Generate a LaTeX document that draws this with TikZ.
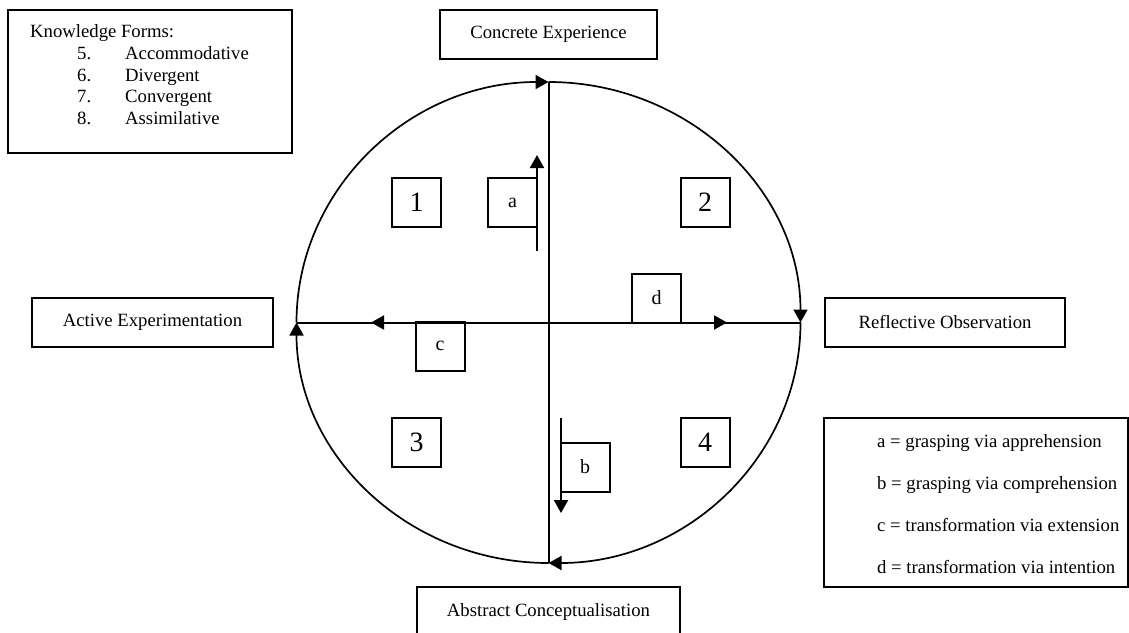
\documentclass[tikz,border=0pt]{standalone}
\usepackage{fontspec}
\setmainfont{Liberation Serif}
\usetikzlibrary{arrows.meta}
\tikzset{
  frame/.style={rectangle, draw=black, line width=2pt, inner sep=0pt},
  stage/.style={frame, minimum height=49pt, font=\fontsize{18.7}{22}\selectfont},
  quad/.style={frame, minimum size=49pt, font=\fontsize{28}{32}\selectfont},
  mode/.style={frame, minimum size=49pt, font=\fontsize{20}{24}\selectfont},
  txt/.style={anchor=base west, inner sep=0pt, font=\fontsize{18.7}{22}\selectfont},
  flow/.style={-{Triangle[length=13pt,width=14pt]}, line width=2pt},
  ring/.style={line width=1.7pt},
}

\begin{document}
\begin{tikzpicture}[x=1pt, y=-1pt]
  \useasboundingbox (0,0) rectangle (1129,632);
  % the cycle
  \coordinate (o) at (548.5,322.5);
  \coordinate (cT) at (548.5,82);
  \coordinate (cB) at (548.5,563);
  \coordinate (cL) at (296.5,322.5);
  \coordinate (cR) at (800.5,322.5);
  \draw[flow, ring] (cL) arc[start angle=180, end angle=90, x radius=252pt, y radius=240.5pt];
  \draw[flow, ring] (cT) arc[start angle=90, end angle=0, x radius=252pt, y radius=240.5pt];
  \draw[flow, ring] (cR) arc[start angle=0, end angle=-90, x radius=252pt, y radius=240.5pt];
  \draw[flow, ring] (cB) arc[start angle=-90, end angle=-180, x radius=252pt, y radius=240.5pt];
  \draw[line width=2pt] (cT) -- (cB);
  \draw[line width=2pt] (cL) -- (cR);
  % the four stages
  \node[stage, minimum width=217pt] (ce) at (548.5,34.5) {Concrete Experience};
  \node[stage, minimum width=240pt] (ro) at (945,322.5) {Reflective Observation};
  \node[stage, minimum width=263pt] (ac) at (548.5,611.5) {Abstract Conceptualisation};
  \node[stage, minimum width=241pt] (ae) at (152.5,322.5) {Active Experimentation};
  % quadrants
  \foreach \n/\x/\y in {1/416.5/202.5, 2/705/202.5, 3/416.5/442.5, 4/705/442.5}
    \node[quad] (q\n) at (\x,\y) {\n};
  % a, b, c, d
  \node[mode] (ma) at (512.5,202.5) {a};
  \node[mode] (mb) at (585,467) {b};
  \node[mode] (mc) at (440,346) {c};
  \node[mode] (md) at (656.5,298) {d};
  \coordinate (aS) at (537,251);
  \coordinate (aE) at (537,155);
  \coordinate (bS) at (561,418);
  \coordinate (bE) at (561,513);
  \coordinate (cE) at (371,322.5);
  \coordinate (dE) at (727,322.5);
  \draw[flow] (aS) -- (aE);
  \draw[flow] (bS) -- (bE);
  \draw[flow] (o) -- (cE);
  \draw[flow] (o) -- (dE);
  % knowledge forms
  \node[frame, minimum width=284pt, minimum height=143pt] (forms) at (150,81.5) {};
  \node[txt] (formshead) at (30,37) {Knowledge Forms:};
  \foreach \n/\f [count=\i] in {5/Accommodative, 6/Divergent, 7/Convergent, 8/Assimilative} {
    \node[txt] (kn\i) at (77,{38.5+21.4*\i}) {\n.};
    \node[txt] (kf\i) at (125,{38.5+21.4*\i}) {\f};
  }
  % key
  \node[frame, minimum width=304pt, minimum height=169pt] (key) at (976,502.5) {};
  \foreach \t [count=\i] in {a = grasping via apprehension, b = grasping via comprehension,
      c = transformation via extension, d = transformation via intention}
    \node[txt] (key\i) at (877,{405+42*\i}) {\t};
\end{tikzpicture}
\end{document}
